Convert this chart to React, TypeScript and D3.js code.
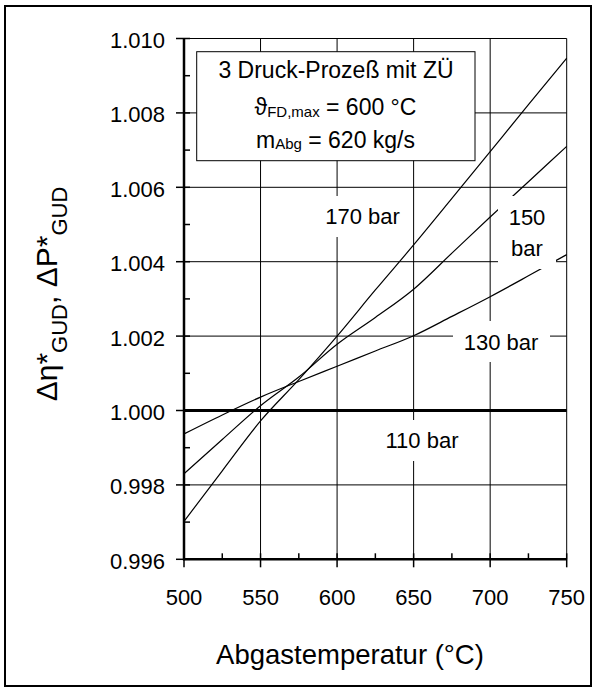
import React from "react";
import * as d3 from "d3";

const temps = [500, 525, 550, 575, 600, 625, 650, 675, 700, 725, 750];
const bar170 = [0.99702, 0.99838, 0.99972, 1.00083, 1.002, 1.00324, 1.00445, 1.0057, 1.00696, 1.00822, 1.00947];
const bar150 = [0.9983, 0.99922, 1.00013, 1.0009, 1.00178, 1.0025, 1.00326, 1.00423, 1.0052, 1.00615, 1.0071];
const bar130 = [0.99937, 0.99988, 1.00036, 1.00078, 1.00119, 1.0016, 1.00201, 1.00253, 1.00306, 1.00362, 1.00419];
const bar110 = [1, 1, 1, 1, 1, 1, 1, 1, 1, 1, 1];

const xTicks = [500, 550, 600, 650, 700, 750];
const xMinor = [525, 575, 625, 675, 725];
const yTicks = [0.996, 0.998, 1.0, 1.002, 1.004, 1.006, 1.008, 1.01];
const yMinor = [0.997, 0.999, 1.001, 1.003, 1.005, 1.007, 1.009];
const gridX = [550, 600, 650, 700];
const gridY = [0.998, 1.002, 1.004, 1.006, 1.008];

const FONT = "'Liberation Sans', Arial, Helvetica, sans-serif";

export default function App() {
  const x = d3.scaleLinear().domain([500, 750]).range([184, 566.7]);
  const y = d3.scaleLinear().domain([0.996, 1.01]).range([559.3, 38.5]);
  const line = d3
    .line<number>()
    .x((_, i) => x(temps[i]))
    .y((d) => y(d))
    .curve(d3.curveMonotoneX);

  const x0 = x(500), x1 = x(750), y0 = y(0.996), y1 = y(1.01);

  return (
    <svg width={595} height={689} style={{ position: "absolute", left: 0, top: 0 }} fontFamily={FONT}>
      <rect x={0} y={0} width={595} height={689} fill="#fff" />
      <rect x={5} y={6} width={586} height={680} fill="none" stroke="#000" strokeWidth={2} />

      {gridX.map((v) => (
        <line key={"gx" + v} x1={x(v)} x2={x(v)} y1={y1} y2={y0} stroke="#000" strokeWidth={1} />
      ))}
      {gridY.map((v) => (
        <line key={"gy" + v} x1={x0} x2={x1} y1={y(v)} y2={y(v)} stroke="#000" strokeWidth={1} />
      ))}

      {[bar170, bar150, bar130].map((s, i) => (
        <path key={"s" + i} d={line(s) || ""} fill="none" stroke="#000" strokeWidth={1.2} />
      ))}
      <path d={line(bar110) || ""} fill="none" stroke="#000" strokeWidth={3} />

      {/* label boxes */}
      <rect x={315} y={196} width={95} height={41} fill="#fff" />
      <rect x={498} y={196} width={58} height={73} fill="#fff" />
      <rect x={453} y={321} width={97} height={41} fill="#fff" />
      <rect x={372} y={420} width={100} height={41} fill="#fff" />

      <g fontSize={22} textAnchor="middle" fill="#000">
        <text x={362.5} y={224}>170 bar</text>
        <text x={527} y={225}>150</text>
        <text x={527} y={256}>bar</text>
        <text x={501} y={350}>130 bar</text>
        <text x={422} y={448}>110 bar</text>
      </g>

      {/* legend */}
      <rect x={196.7} y={51.7} width={278.3} height={109} fill="#fff" stroke="#000" strokeWidth={1} />
      <g textAnchor="middle" fill="#000">
        <text x={336} y={78.3} fontSize={23}>3 Druck-Prozeß mit ZÜ</text>
        <text x={335.5} y={115} fontSize={23}>
          <tspan>ϑ</tspan>
          <tspan fontSize={15} dy={1.5}>FD,max</tspan>
          <tspan dy={-1.5}> = 600 °C</tspan>
        </text>
        <text x={335.5} y={148.3} fontSize={23}>
          <tspan>m</tspan>
          <tspan fontSize={15} dy={1}>Abg</tspan>
          <tspan dy={-1}> = 620 kg/s</tspan>
        </text>
      </g>

      {/* plot frame */}
      <line x1={x0} x2={x1} y1={y1} y2={y1} stroke="#000" strokeWidth={1} />
      <line x1={x1} x2={x1} y1={y1} y2={y0} stroke="#000" strokeWidth={1} />
      <line x1={x0} x2={x0} y1={y1} y2={y0 + 1} stroke="#000" strokeWidth={2.5} />
      <line x1={x0 - 1} x2={x1} y1={y0} y2={y0} stroke="#000" strokeWidth={2.5} />

      {yTicks.map((v) => (
        <line key={"yt" + v} x1={x0 - 8} x2={x0 + 6} y1={y(v)} y2={y(v)} stroke="#000" strokeWidth={1.5} />
      ))}
      {yMinor.map((v) => (
        <line key={"ym" + v} x1={x0} x2={x0 + 6} y1={y(v)} y2={y(v)} stroke="#000" strokeWidth={1.5} />
      ))}
      {xTicks.map((v) => (
        <line key={"xt" + v} x1={x(v)} x2={x(v)} y1={y0 - 6} y2={y0 + 8} stroke="#000" strokeWidth={1.5} />
      ))}
      {xMinor.map((v) => (
        <line key={"xm" + v} x1={x(v)} x2={x(v)} y1={y0 - 6} y2={y0} stroke="#000" strokeWidth={1.5} />
      ))}

      <g fontSize={22} fill="#000">
        {yTicks.map((v) => (
          <text key={"yl" + v} x={165} y={y(v) + 9.5} textAnchor="end">
            {d3.format(".3f")(v)}
          </text>
        ))}
        {xTicks.map((v) => (
          <text key={"xl" + v} x={x(v)} y={605} textAnchor="middle">
            {v}
          </text>
        ))}
      </g>

      <text x={350} y={664} fontSize={27.5} textAnchor="middle" fill="#000">
        Abgastemperatur (°C)
      </text>

      <text transform="translate(57,294) rotate(-90)" fontSize={30} textAnchor="middle" fill="#000">
        <tspan>Δη*</tspan>
        <tspan fontSize={22} dy={10}>GUD</tspan>
        <tspan dy={-10}>, ΔP*</tspan>
        <tspan fontSize={22} dy={10}>GUD</tspan>
      </text>
    </svg>
  );
}
